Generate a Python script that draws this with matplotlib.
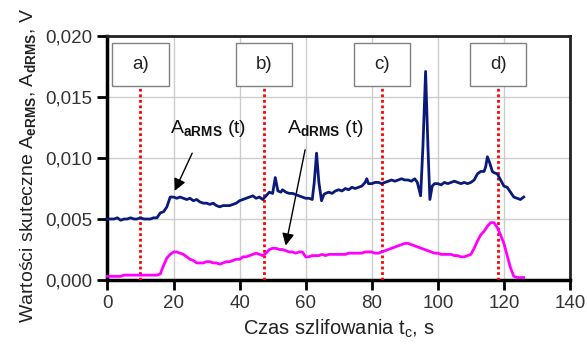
import matplotlib
matplotlib.use("Agg")
import matplotlib.pyplot as plt
from matplotlib.patches import Rectangle

plt.rcParams['font.family'] = ['Liberation Sans', 'DejaVu Sans']
plt.rcParams['mathtext.fontset'] = 'custom'
plt.rcParams['mathtext.rm'] = 'Liberation Sans'
plt.rcParams['mathtext.it'] = 'Liberation Sans'
plt.rcParams['mathtext.bf'] = 'Liberation Sans:bold'

# A_aRMS (navy)
t_a = [0, 1, 2, 3, 4, 5, 6, 7, 8, 9, 10, 11, 12, 13, 14, 15, 16, 17, 18, 19, 20,
       21, 22, 23, 24, 25, 26, 27, 28, 29, 30, 31, 32, 33, 34, 35, 36, 37, 38, 39, 40,
       41, 42, 43, 44, 45, 46, 47, 48, 49, 50, 50.8, 51.6, 52.5, 53, 54, 55, 56, 57, 58, 59, 60,
       61, 62, 62.6, 63.3, 64, 64.8, 65.5, 66, 67, 68, 69, 70, 71, 72, 73, 74, 75, 76, 77,
       78, 78.5, 79, 80, 81, 82, 83, 84, 85, 86, 87, 88, 89, 90, 91, 92, 93, 93.8,
       94.8, 95.5, 96.3, 97, 97.6, 98.3, 99, 100, 101, 102, 103, 104, 105, 106, 107, 108,
       109, 110, 111, 112, 113, 114, 114.5, 115, 115.7, 116.5, 117, 118, 119, 120, 121, 122,
       123, 124, 125, 126]
a_rms = [0.0050, 0.0050, 0.0050, 0.0051, 0.0049, 0.0050, 0.0050, 0.0051, 0.0050, 0.0050,
         0.0051, 0.0050, 0.0050, 0.0050, 0.0051, 0.0051, 0.0055, 0.0056, 0.0060, 0.0068, 0.0068,
         0.0067, 0.0068, 0.0067, 0.0066, 0.0067, 0.0065, 0.0066, 0.0064, 0.0063, 0.0063,
         0.0062, 0.0063, 0.0061, 0.0060, 0.0061, 0.0061, 0.0061, 0.0062, 0.0063, 0.0065,
         0.0066, 0.0067, 0.0068, 0.0069, 0.0067, 0.0068, 0.0066, 0.0069, 0.0072, 0.0071,
         0.0084, 0.0073, 0.0072, 0.0074, 0.0072, 0.0071, 0.0071, 0.0070, 0.0069, 0.0068, 0.0067,
         0.0067, 0.0066, 0.0080, 0.0104, 0.0080, 0.0065, 0.0070, 0.0071, 0.0072, 0.0071,
         0.0073, 0.0074, 0.0073, 0.0075, 0.0074, 0.0076, 0.0075, 0.0076, 0.0077,
         0.0080, 0.0083, 0.0079, 0.0079, 0.0080, 0.0080, 0.0079, 0.0080, 0.0081, 0.0082,
         0.0081, 0.0082, 0.0083, 0.0082, 0.0082, 0.0081, 0.0083, 0.0080,
         0.0069, 0.0110, 0.0171, 0.0110, 0.0066, 0.0077, 0.0079, 0.0079, 0.0078, 0.0080,
         0.0079, 0.0080, 0.0081, 0.0080, 0.0079, 0.0080,
         0.0079, 0.0080, 0.0082, 0.0087, 0.0089, 0.0089, 0.0093, 0.0101, 0.0096, 0.0089,
         0.0088, 0.0087, 0.0082, 0.0077, 0.0076, 0.0072,
         0.0068, 0.0067, 0.0066, 0.0068]

# A_dRMS (magenta)
t_d = list(range(0, 127))
d_rms = [0.0003, 0.0003, 0.0003, 0.0003, 0.0003, 0.0004, 0.0004, 0.0004, 0.0004, 0.0004,
         0.0004, 0.0004, 0.0004, 0.0004, 0.0004, 0.0004, 0.0005, 0.0012, 0.0018, 0.0021,
         0.0023, 0.0023, 0.0022, 0.0021, 0.0019, 0.0017, 0.0016, 0.0014, 0.0014, 0.0014,
         0.0015, 0.0015, 0.0014, 0.0014, 0.0013, 0.0014, 0.0015, 0.0015, 0.0016, 0.0017,
         0.0017, 0.0019, 0.0019, 0.0020, 0.0021, 0.0022, 0.0021, 0.0020, 0.0022, 0.0025,
         0.0026, 0.0026, 0.0025, 0.0025, 0.0024, 0.0023, 0.0023, 0.0022, 0.0023, 0.0023,
         0.0019, 0.0019, 0.0020, 0.0020, 0.0020, 0.0021, 0.0020, 0.0021, 0.0021, 0.0021,
         0.0021, 0.0021, 0.0021, 0.0022, 0.0022, 0.0022, 0.0022, 0.0022, 0.0023, 0.0023,
         0.0023, 0.0022, 0.0022, 0.0023, 0.0024, 0.0025, 0.0026, 0.0027, 0.0028, 0.0029,
         0.0030, 0.0030, 0.0029, 0.0028, 0.0027, 0.0026, 0.0025, 0.0024, 0.0023, 0.0022,
         0.0022, 0.0021, 0.0021, 0.0021, 0.0021, 0.0020, 0.0020, 0.0019, 0.0019, 0.0020,
         0.0021, 0.0026, 0.0032, 0.0037, 0.0040, 0.0044, 0.0047, 0.0047, 0.0043, 0.0037,
         0.0030, 0.0020, 0.0010, 0.0003, 0.0002, 0.0002, 0.0002]

marker_labels = ['a)', 'b)', 'c)', 'd)']
marker_times = [10, 47.5, 83, 118.3]

x_ticks = [0, 20, 40, 60, 80, 100, 120, 140]
y_ticks = [0.0, 0.005, 0.010, 0.015, 0.020]
y_tick_labels = ['0,000', '0,005', '0,010', '0,015', '0,020']

fig = plt.figure(figsize=(5.87, 3.5), dpi=100)
ax = fig.add_axes([0.183, 0.2, 0.788, 0.697])

ax.set_xlim(0, 140)
ax.set_ylim(0, 0.020)
ax.set_xticks(x_ticks)
ax.set_yticks(y_ticks)
ax.set_yticklabels(y_tick_labels)
ax.grid(True, color='#cccccc', linewidth=1.0, zorder=0)
ax.set_axisbelow(True)

for s in ['left', 'bottom']:
    ax.spines[s].set_linewidth(2.5)
for s in ['top', 'right']:
    ax.spines[s].set_linewidth(2.0)
    ax.spines[s].set_color('#222222')
ax.tick_params(axis='both', direction='out', length=7, width=2, labelsize=13.5,
               labelcolor='#333333', pad=4)

ax.plot(t_a, a_rms, color='#0a1a7a', lw=2.0, zorder=4, clip_on=False)
ax.plot(t_d, d_rms, color='#ff00ff', lw=2.0, zorder=4, clip_on=False)

box_bottom = 0.0159
box_top = 0.0194
for lab, tm in zip(marker_labels, marker_times):
    ax.plot([tm, tm], [0, box_bottom], color='red', lw=2, linestyle=(0, (1, 1)), zorder=3)
    ax.add_patch(Rectangle((tm - 8.5, box_bottom), 17, box_top - box_bottom,
                           facecolor='white', edgecolor='#808080', lw=1.0, zorder=5))
    ax.text(tm, (box_bottom + box_top) / 2, lab, ha='center', va='center',
            fontsize=13.5, color='#222222', zorder=6)

ax.annotate('', xy=(20, 0.0071), xytext=(26, 0.0106),
            arrowprops=dict(arrowstyle='-|>', color='black', lw=1, mutation_scale=18))
ax.text(30.5, 0.0124, r'A$_{\mathbf{aRMS}}$ (t)', ha='center', va='center', fontsize=14,
        color='#111111')
ax.annotate('', xy=(53.8, 0.0026), xytext=(60, 0.0109),
            arrowprops=dict(arrowstyle='-|>', color='black', lw=1, mutation_scale=18))
ax.text(66, 0.0124, r'A$_{\mathbf{dRMS}}$ (t)', ha='center', va='center', fontsize=14,
        color='#111111')

ax.set_xlabel(r'Czas szlifowania t$_{\mathrm{c}}$, s', fontsize=14.5, color='#222222', labelpad=4)
ax.set_ylabel(r'Wartości skuteczne A$_{\mathbf{eRMS}}$, A$_{\mathbf{dRMS}}$, V', fontsize=14,
              color='#222222')
ax.yaxis.set_label_coords(-0.15, 0.47)

fig.savefig('out.png', dpi=100)
